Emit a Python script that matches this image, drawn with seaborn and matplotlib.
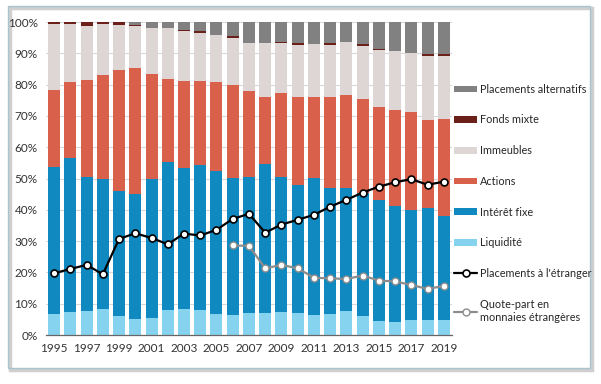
import numpy as np
import pandas as pd
import matplotlib
matplotlib.use("Agg")
import matplotlib.pyplot as plt
import seaborn as sns
from matplotlib.patches import Patch, Rectangle
from matplotlib.lines import Line2D
from matplotlib.ticker import FixedLocator

years = list(range(1995, 2020))

liquidite = [6.6, 7.4, 7.6, 8.4, 6.2, 5.2, 5.5, 8.0, 8.4, 8.0, 6.8, 6.4, 7.1,
             6.9, 7.3, 6.9, 6.4, 6.7, 7.8, 6.2, 4.6, 4.3, 4.8, 4.8, 4.8]
interet_fixe = [47.0, 49.0, 43.0, 41.3, 39.9, 39.8, 44.2, 47.3, 45.1, 46.4, 45.5, 43.9, 43.5,
                47.8, 43.3, 41.1, 43.9, 40.4, 39.3, 39.1, 38.4, 36.9, 35.0, 35.9, 33.1]
actions = [24.7, 24.4, 30.8, 33.3, 38.5, 40.2, 33.7, 26.6, 27.8, 26.8, 28.4, 29.5, 27.5,
           21.4, 26.6, 27.9, 25.6, 28.8, 29.6, 30.0, 29.9, 30.7, 31.3, 28.0, 31.0]
immeubles = [21.1, 18.7, 17.3, 16.4, 14.6, 13.4, 14.8, 16.1, 15.8, 15.3, 15.1, 15.2, 15.1,
             17.1, 16.0, 16.7, 17.2, 16.8, 16.9, 17.2, 18.3, 18.7, 19.0, 20.6, 20.2]
fonds_mixte = [0.6, 0.5, 1.3, 0.6, 0.8, 0.4, 0.0, 0.0, 0.5, 0.6, 0.0, 0.4, 0.0,
               0.0, 0.4, 0.6, 0.0, 0.5, 0.0, 0.5, 0.2, 0.0, 0.0, 0.6, 0.6]
alternatifs = [0.0, 0.0, 0.0, 0.0, 0.0, 1.0, 1.8, 2.0, 2.4, 2.9, 4.2, 4.6, 6.8,
               6.8, 6.4, 6.8, 6.9, 6.8, 6.4, 7.0, 8.6, 9.4, 9.9, 10.1, 10.3]

etranger = [19.7, 21.1, 22.4, 19.4, 30.7, 32.5, 31.0, 29.0, 32.4, 31.8, 33.6, 37.1, 38.7,
            32.7, 35.3, 36.8, 38.4, 41.0, 43.2, 45.5, 47.4, 48.8, 49.8, 48.0, 49.0]
quote_years = list(range(2006, 2020))
quote_part = [28.6, 28.5, 21.3, 22.4, 21.3, 18.3, 18.1, 17.9, 19.0, 17.4, 17.1, 16.0, 14.7, 15.7]

series = [
    ("Liquidité", liquidite, "#86d3f0"),
    ("Intérêt fixe", interet_fixe, "#0f89bf"),
    ("Actions", actions, "#d9604a"),
    ("Immeubles", immeubles, "#ddd6d5"),
    ("Fonds mixte", fonds_mixte, "#6b2119"),
    ("Placements alternatifs", alternatifs, "#818181"),
]

sns.set_theme(style="white")
plt.rcParams["font.family"] = ["Lato", "DejaVu Sans"]

fig = plt.figure(figsize=(6.01, 3.84), dpi=100)
ax = fig.add_axes([0.0765, 0.1276, 0.6755, 0.815])

bottom = np.zeros(len(years))
for name, vals, color in series:
    ax.bar(years, vals, bottom=bottom, width=0.74, color=color, linewidth=0, zorder=2)
    bottom += np.array(vals)

df_et = pd.DataFrame({"year": years, "value": etranger})
df_qp = pd.DataFrame({"year": quote_years, "value": quote_part})
sns.lineplot(data=df_et, x="year", y="value", ax=ax, color="black", linewidth=1.6,
             marker="o", markersize=5, markerfacecolor="white", markeredgecolor="black",
             markeredgewidth=1.2, zorder=4)
sns.lineplot(data=df_qp, x="year", y="value", ax=ax, color="#8c8c8c", linewidth=1.6,
             marker="o", markersize=5, markerfacecolor="white", markeredgecolor="#8c8c8c",
             markeredgewidth=1.0, zorder=4)

ax.set_xlim(1994.5, 2019.5)
ax.set_ylim(0, 100)
ax.set_xlabel("")
ax.set_ylabel("")
ax.set_yticks(range(0, 101, 10))
ax.set_yticklabels([f"{v}%" for v in range(0, 101, 10)])
ax.set_xticks(years[::2])
ax.set_xticklabels([str(y) for y in years[::2]])
ax.xaxis.set_minor_locator(FixedLocator([y - 0.5 for y in years] + [2019.5]))
ax.tick_params(axis="x", which="major", length=0, pad=6, labelsize=8.5, colors="#333333")
ax.tick_params(axis="x", which="minor", length=4, width=0.8, color="#666666", direction="out")
ax.tick_params(axis="y", length=0, labelsize=8.5, colors="#333333", pad=6)
ax.grid(axis="y", color="#d8d8d8", linewidth=0.8, zorder=0)
ax.set_axisbelow(True)
for s in ["top", "right", "left"]:
    ax.spines[s].set_visible(False)
ax.spines["bottom"].set_color("#666666")
ax.spines["bottom"].set_linewidth(0.9)

handles = [Patch(facecolor=c, edgecolor="none") for _, _, c in series[::-1]]
labels = [n for n, _, _ in series[::-1]]
handles += [
    Line2D([], [], color="black", linewidth=1.6, marker="o", markersize=5,
           markerfacecolor="white", markeredgecolor="black", markeredgewidth=1.2),
    Line2D([], [], color="#8c8c8c", linewidth=1.6, marker="o", markersize=5,
           markerfacecolor="white", markeredgecolor="#8c8c8c"),
]
labels += ["Placements à l'étranger", "Quote-part en\nmonnaies étrangères"]
fig.legend(handles, labels, loc="upper left", bbox_to_anchor=(0.756, 0.782),
           frameon=False, fontsize=7.8, handlelength=2.1, handleheight=0.55,
           handletextpad=0.3, labelspacing=1.82, borderaxespad=0, borderpad=0)

# frame with soft shadow around the figure
fig.patches.append(Rectangle((0.0166, 0.0365), 0.9684, 0.9425, transform=fig.transFigure,
                             fill=False, edgecolor="#cfcfcf", linewidth=2.5, zorder=-1))
fig.patches.append(Rectangle((0.0133, 0.0417), 0.9684, 0.9425, transform=fig.transFigure,
                             fill=False, edgecolor="#aac3cf", linewidth=1, zorder=0))

fig.savefig("out.png", dpi=100)
